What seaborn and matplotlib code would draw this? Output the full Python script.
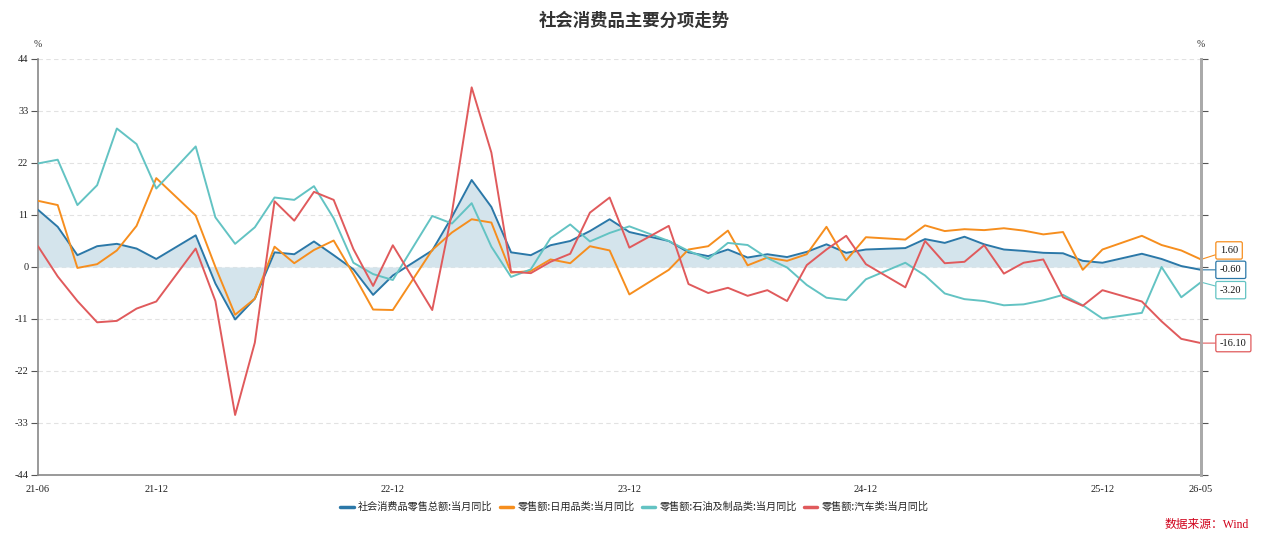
import numpy as np
import pandas as pd
import matplotlib
matplotlib.use('Agg')
import matplotlib.pyplot as plt
import seaborn as sns

# ---------------- data ----------------
months = (
    ['2021-06', '2021-07', '2021-08', '2021-09', '2021-10', '2021-11', '2021-12'] +
    ['2022-%02d' % m for m in range(2, 13)] +
    ['2023-%02d' % m for m in range(2, 13)] +
    ['2024-%02d' % m for m in range(2, 13)] +
    ['2025-%02d' % m for m in range(2, 13)] +
    ['2026-02', '2026-03', '2026-04', '2026-05']
)

total = [12.1, 8.5, 2.5, 4.4, 4.9, 3.9, 1.7,
         6.7, -3.5, -11.1, -6.7, 3.1, 2.7, 5.4, 2.5, -0.5, -5.9, -1.8,
         3.5, 10.6, 18.4, 12.7, 3.1, 2.5, 4.6, 5.5, 7.6, 10.1, 7.4,
         5.5, 3.1, 2.3, 3.7, 2.0, 2.7, 2.1, 3.2, 4.8, 3.0, 3.7,
         4.0, 5.9, 5.1, 6.4, 4.8, 3.7, 3.4, 3.0, 2.9, 1.3, 0.9,
         2.8, 1.7, 0.2, -0.6]

daily = [14.0, 13.1, -0.2, 0.6, 3.5, 8.7, 18.8,
         10.9, 0.0, -10.1, -6.7, 4.3, 0.8, 3.6, 5.6, -1.5, -9.0, -9.1,
         3.6, 7.3, 10.1, 9.4, -1.2, -0.85, 1.6, 0.8, 4.4, 3.5, -5.8,
         -0.6, 3.7, 4.4, 7.7, 0.35, 2.0, 1.3, 2.7, 8.5, 1.4, 6.3,
         5.8, 8.8, 7.6, 8.0, 7.8, 8.2, 7.7, 6.9, 7.4, -0.6, 3.7,
         6.6, 4.65, 3.5, 1.6]

petro = [21.9, 22.7, 13.1, 17.3, 29.3, 26.0, 16.6,
         25.5, 10.5, 4.9, 8.4, 14.7, 14.2, 17.1, 10.3, 0.9, -1.5, -2.75,
         10.8, 9.2, 13.5, 4.3, -2.1, -0.5, 6.1, 9.0, 5.4, 7.2, 8.6,
         5.5, 3.4, 1.7, 5.1, 4.65, 1.9, -0.1, -3.8, -6.5, -7.0, -2.6,
         0.9, -1.8, -5.6, -6.8, -7.2, -8.1, -7.9, -7.05, -5.9, -8.1, -10.9,
         -9.7, 0.0, -6.4, -3.2]

auto = [4.4, -2.0, -7.2, -11.7, -11.4, -8.8, -7.3,
        3.9, -7.2, -31.3, -16.0, 13.9, 9.8, 15.9, 14.2, 3.8, -4.0, 4.6,
        -9.1, 11.5, 38.0, 24.2, -1.0, -1.3, 1.1, 2.8, 11.5, 14.7, 4.1,
        8.7, -3.6, -5.5, -4.4, -6.1, -4.9, -7.2, 0.4, 3.7, 6.6, 0.6,
        -4.3, 5.5, 0.8, 1.1, 4.6, -1.4, 0.9, 1.6, -6.4, -8.2, -4.9,
        -7.3, -11.5, -15.2, -16.1]

series_names = ['社会消费品零售总额:当月同比', '零售额:日用品类:当月同比',
                '零售额:石油及制品类:当月同比', '零售额:汽车类:当月同比']
series_values = [total, daily, petro, auto]
colors = ['#2b78a8', '#f68e1e', '#63c3c3', '#e05a5c']

tick_months = ['2021-06', '2021-12', '2022-12', '2023-12', '2024-12', '2025-12', '2026-05']
tick_labels = ['21-06', '21-12', '22-12', '23-12', '24-12', '25-12', '26-05']
y_ticks = [-44, -33, -22, -11, 0, 11, 22, 33, 44]

title = '社会消费品主要分项走势'
source = '数据来源：Wind'

# ---------------- helpers ----------------
start = pd.Period(months[0], freq='M')
def month_index(lst):
    return [(pd.Period(m, freq='M') - start).n for m in lst]

x = month_index(months)
xt = month_index(tick_months)

rows = []
for name, vals in zip(series_names, series_values):
    for xi, v in zip(x, vals):
        rows.append({'x': xi, 'value': v, 'series': name})
df = pd.DataFrame(rows)

# ---------------- style ----------------
sns.set_style('white')
plt.rcParams['font.family'] = ['Liberation Serif', 'Noto Sans CJK SC']
plt.rcParams['axes.unicode_minus'] = False

W, H = 1269, 541
fig = plt.figure(figsize=(W / 100, H / 100), dpi=100)
ax = fig.add_axes([38 / W, 1 - 475 / H, (1201 - 38) / W, (475 - 59) / H])

ax.fill_between(x, total, 0, color='#d4e4ec', linewidth=0, zorder=1)
sns.lineplot(data=df, x='x', y='value', hue='series', hue_order=series_names,
             palette=colors, linewidth=1.4, legend=False, ax=ax, zorder=3,
             sort=True, estimator=None)

ax.set_xlim(min(x), max(x))
ax.set_ylim(-44, 44)
ax.set_xlabel('')
ax.set_ylabel('')
ax.set_yticks(y_ticks)
ax.set_yticklabels([str(t) for t in y_ticks])
ax.set_xticks(xt)
ax.set_xticklabels(tick_labels)
ax.tick_params(axis='both', which='major', labelsize=7.5, colors='#555',
               labelcolor='#222', length=5, width=0.8, direction='out')
ax.tick_params(axis='x', pad=2)
ax.tick_params(axis='y', pad=2)

ax.yaxis.grid(True, linestyle=(0, (4, 3)), color='#e2e2e2', linewidth=0.8)
ax.set_axisbelow(True)
ax.spines['top'].set_visible(False)
ax.spines['left'].set_color('#888888')
ax.spines['left'].set_linewidth(1.2)
ax.spines['bottom'].set_color('#888888')
ax.spines['bottom'].set_linewidth(1.2)
ax.spines['right'].set_color('#aaaaaa')
ax.spines['right'].set_linewidth(2.0)

ax2 = ax.twinx()
ax2.set_ylim(-44, 44)
ax2.set_yticks(y_ticks)
ax2.set_yticklabels([])
ax2.tick_params(axis='y', length=5, width=0.8, colors='#555', direction='out')
for s in ['top', 'left', 'bottom']:
    ax2.spines[s].set_visible(False)
ax2.spines['right'].set_color('#aaaaaa')
ax2.spines['right'].set_linewidth(2.0)

# end-value callouts
offsets = {0: 0, 1: 9, 2: -8, 3: 0}
for i in range(4):
    v = series_values[i][-1]
    lab = '%.2f' % v
    ax.annotate(lab, xy=(max(x), v), xytext=(19, offsets[i]),
                textcoords='offset pixels', ha='left', va='center',
                fontsize=7.5, color='#111', annotation_clip=False, zorder=6,
                bbox=dict(boxstyle='round,pad=0.4,rounding_size=0.15', fc='white',
                          ec=colors[i], lw=0.9),
                arrowprops=dict(arrowstyle='-', color=colors[i], lw=0.8,
                                shrinkA=0, shrinkB=0))

# percent labels
fig.text(38 / W, 1 - 45 / H, '%', ha='center', va='center', fontsize=7, color='#333')
fig.text(1201 / W, 1 - 45 / H, '%', ha='center', va='center', fontsize=7, color='#333')

# title
fig.text(0.5, 1 - 21 / H, title, ha='center', va='center', fontsize=12.5,
         fontweight='bold', color='#333', family=['Noto Sans CJK SC'])

# legend
handles = [plt.Line2D([0], [0], color=c, lw=2.5) for c in colors]
fig.legend(handles, series_names, loc='center', bbox_to_anchor=(0.5, 1 - 507 / H),
           ncol=4, frameon=False, handlelength=1.3,
           handletextpad=0.45, columnspacing=0.7,
           prop={'family': ['Noto Sans CJK SC'], 'size': 7.3})

fig.text(1249 / W, 1 - 525 / H, source, ha='right', va='center', fontsize=8.5,
         color='#d0021b')

fig.savefig('out.png', dpi=100)
